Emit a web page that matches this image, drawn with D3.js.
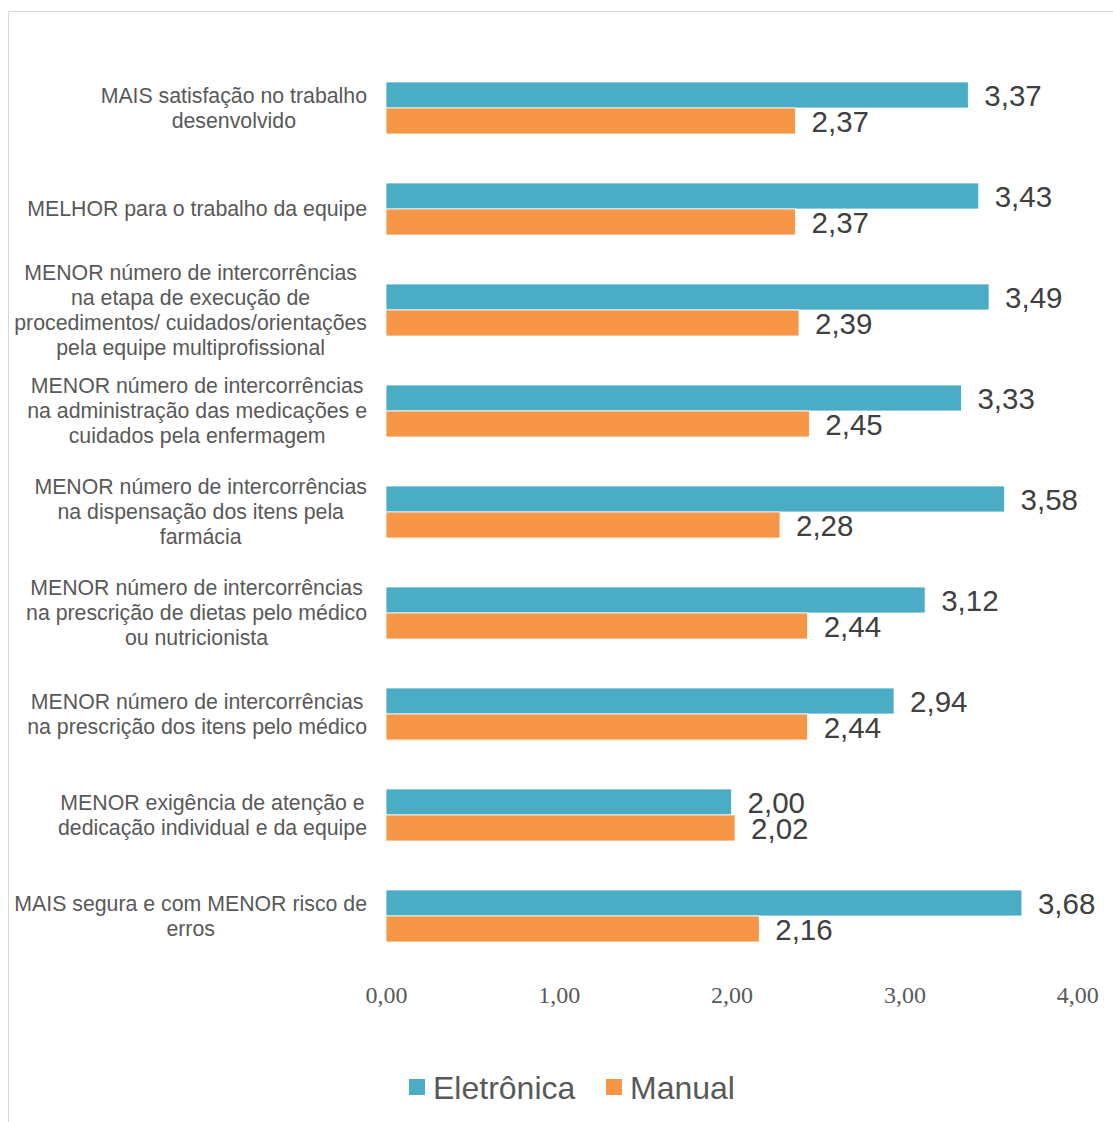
<!DOCTYPE html>
<html>
<head>
<meta charset="utf-8">
<script src="https://cdn.jsdelivr.net/npm/d3@7"></script>
<style>
  html, body { margin: 0; padding: 0; background: #fff; }
  svg { display: block; }
</style>
</head>
<body>
<svg id="chart" width="1113" height="1122"></svg>
<script>
// Category labels (each entry is the list of wrapped lines)
const categories = [
  ["MAIS satisfação no trabalho", "desenvolvido"],
  ["MELHOR para o trabalho da equipe"],
  ["MENOR número de intercorrências", "na etapa de execução de", "procedimentos/ cuidados/orientações", "pela equipe multiprofissional"],
  ["MENOR número de intercorrências", "na administração das medicações e", "cuidados pela enfermagem"],
  ["MENOR número de intercorrências", "na dispensação dos itens pela", "farmácia"],
  ["MENOR número de intercorrências", "na prescrição de dietas pelo médico", "ou nutricionista"],
  ["MENOR número de intercorrências", "na prescrição dos itens pelo médico"],
  ["MENOR exigência de atenção e", "dedicação individual e da equipe"],
  ["MAIS segura e com MENOR risco de", "erros"]
];
const seriesNames = ["Eletrônica", "Manual"];
const eletronica = [3.37, 3.43, 3.49, 3.33, 3.58, 3.12, 2.94, 2.00, 3.68];
const manual     = [2.37, 2.37, 2.39, 2.45, 2.28, 2.44, 2.44, 2.02, 2.16];
const xTicks = [0, 1, 2, 3, 4];

const colors = { "Eletrônica": "#4BACC6", "Manual": "#F79646" };
const fmt = v => d3.format(".2f")(v).replace(".", ",");

const svg = d3.select("#chart");

// chart frame (partly outside the visible area)
svg.append("rect")
  .attr("x", 8.5).attr("y", 11.5)
  .attr("width", 1200).attr("height", 1200)
  .attr("fill", "#fff").attr("stroke", "#d9d9d9").attr("stroke-width", 1);

const plot = { left: 386, right: 1077.2, top: 57.5, bottom: 966.5 };

const x = d3.scaleLinear().domain([0, 4]).range([plot.left, plot.right]);
const y = d3.scaleBand()
  .domain(d3.range(categories.length))
  .range([plot.top, plot.bottom])
  .paddingInner(0.485).paddingOuter(0.2425);
const sub = d3.scaleBand().domain(seriesNames).range([0, y.bandwidth()]);

const rows = categories.map((c, i) => ({ i, values: [
  { key: "Eletrônica", value: eletronica[i] },
  { key: "Manual", value: manual[i] }
]}));

// bars
const g = svg.append("g");
const groups = g.selectAll("g.cat").data(rows).join("g")
  .attr("class", "cat")
  .attr("transform", d => `translate(0,${y(d.i)})`);

groups.selectAll("rect").data(d => d.values).join("rect")
  .attr("x", x(0))
  .attr("y", d => sub(d.key))
  .attr("width", d => x(d.value) - x(0))
  .attr("height", sub.bandwidth())
  .attr("fill", d => colors[d.key])
  .attr("stroke", "#fff").attr("stroke-width", 0.8);

// value labels
groups.selectAll("text.val").data(d => d.values).join("text")
  .attr("class", "val")
  .attr("x", d => x(d.value) + 16)
  .attr("y", d => sub(d.key) + sub.bandwidth() / 2)
  .attr("dy", "0.36em")
  .attr("font-family", "Liberation Sans, Arial, sans-serif")
  .attr("font-size", 29.5)
  .attr("fill", "#404040")
  .text(d => fmt(d.value));

// category labels: block right-aligned, lines centred within the block
const labelRight = 367;
const lineH = 25;
const labels = svg.append("g");
rows.forEach(r => {
  const lines = categories[r.i];
  const cy = y(r.i) + y.bandwidth() / 2;
  const t = labels.append("g");
  const texts = t.selectAll("text").data(lines).join("text")
    .attr("font-family", "Liberation Sans, Arial, sans-serif")
    .attr("font-size", 21.3)
    .attr("fill", "#595959")
    .attr("text-anchor", "middle")
    .attr("y", (d, k) => cy + (k - (lines.length - 1) / 2) * lineH)
    .attr("dy", "0.35em")
    .text(d => d);
  let maxW = 0;
  texts.each(function () { maxW = Math.max(maxW, this.getComputedTextLength()); });
  texts.attr("x", labelRight - maxW / 2);
});

// x axis (tick labels only)
const xAxis = d3.axisBottom(x).tickValues(xTicks).tickFormat(fmt).tickSize(0).tickPadding(0);
const ax = svg.append("g").attr("transform", "translate(0,995)").call(xAxis);
ax.select(".domain").remove();
ax.selectAll("text")
  .attr("dy", "0.35em")
  .attr("font-family", "Liberation Serif, Times New Roman, serif")
  .attr("font-size", 24)
  .attr("fill", "#595959");

// legend
const legend = svg.append("g").attr("transform", "translate(409,1087)");
const items = [{ key: "Eletrônica", x: 0 }, { key: "Manual", x: 197 }];
items.forEach(it => {
  legend.append("rect")
    .attr("x", it.x).attr("y", -8)
    .attr("width", 16).attr("height", 16)
    .attr("fill", colors[it.key]);
  legend.append("text")
    .attr("x", it.x + 24).attr("y", 0).attr("dy", "0.36em")
    .attr("font-family", "Liberation Sans, Arial, sans-serif")
    .attr("font-size", 32)
    .attr("fill", "#595959")
    .text(it.key);
});
</script>
</body>
</html>
